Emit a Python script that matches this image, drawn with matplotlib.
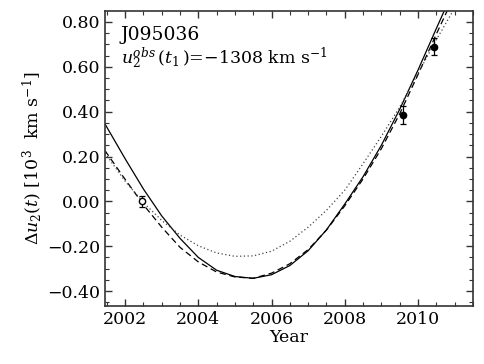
import numpy as np
import matplotlib
matplotlib.use("Agg")
import matplotlib.pyplot as plt
from matplotlib.ticker import MultipleLocator, FuncFormatter

plt.rcParams['font.family'] = 'DejaVu Serif'
plt.rcParams['mathtext.fontset'] = 'dejavuserif'

# model curves (year, 10^3 km/s)
yr_solid = [2001.45, 2002.0, 2002.5, 2003.0, 2003.5, 2004.0, 2004.5, 2005.0, 2005.5, 2006.0,
            2006.5, 2007.0, 2007.5, 2008.0, 2008.5, 2009.0, 2009.5, 2010.0, 2010.5, 2010.72]
du_solid = [0.345, 0.19, 0.055, -0.065, -0.165, -0.25, -0.307, -0.335, -0.343, -0.327,
            -0.286, -0.22, -0.127, -0.012, 0.11, 0.25, 0.41, 0.585, 0.77, 0.85]

yr_dash = [2001.45, 2002.0, 2002.5, 2003.0, 2003.5, 2004.0, 2004.5, 2005.0, 2005.5, 2006.0,
           2006.5, 2007.0, 2007.5, 2008.0, 2008.5, 2009.0, 2009.5, 2010.0, 2010.5, 2010.8]
du_dash = [0.226, 0.098, -0.015, -0.115, -0.205, -0.27, -0.315, -0.337, -0.343, -0.32,
           -0.278, -0.215, -0.128, -0.02, 0.10, 0.235, 0.39, 0.565, 0.745, 0.85]

yr_dot = [2001.45, 2002.0, 2002.5, 2003.0, 2003.5, 2004.0, 2004.5, 2005.0, 2005.5, 2006.0,
          2006.5, 2007.0, 2007.5, 2008.0, 2008.5, 2009.0, 2009.5, 2010.0, 2010.5, 2010.96]
du_dot = [0.215, 0.09, -0.005, -0.085, -0.15, -0.198, -0.23, -0.245, -0.243, -0.222,
          -0.178, -0.115, -0.04, 0.05, 0.168, 0.29, 0.42, 0.57, 0.72, 0.85]

# observed points
obs_yr = [2002.45, 2009.6, 2010.43]
obs_du = [0.0, 0.385, 0.69]
obs_err = [0.025, 0.042, 0.038]

fig = plt.figure(figsize=(4.85, 3.64), dpi=100)
ax = fig.add_axes([0.2165, 0.159, 0.7585, 0.811])

ax.plot(yr_solid, du_solid, color='black', lw=0.9, ls='-')
ax.plot(yr_dash, du_dash, color='black', lw=0.9, ls=(0, (5, 3)))
ax.plot(yr_dot, du_dot, color='#444444', lw=0.9, ls=(0, (1, 2)))

ax.errorbar(obs_yr[:1], obs_du[:1], yerr=obs_err[:1], fmt='o', mfc='white', mec='black',
            ms=4.5, color='black', capsize=2.5, elinewidth=0.9, capthick=0.9)
ax.errorbar(obs_yr[1:], obs_du[1:], yerr=obs_err[1:], fmt='o', mfc='black', mec='black',
            ms=4.5, color='black', capsize=2.5, elinewidth=0.9, capthick=0.9)

ax.set_xlim(2001.45, 2011.5)
ax.set_ylim(-0.467, 0.849)

ax.xaxis.set_major_locator(MultipleLocator(2))
ax.xaxis.set_minor_locator(MultipleLocator(0.5))
ax.yaxis.set_major_locator(MultipleLocator(0.2))
ax.yaxis.set_minor_locator(MultipleLocator(0.05))
ax.yaxis.set_major_formatter(FuncFormatter(lambda v, p: ('%.2f' % v).replace('-', '\u2212')))
ax.xaxis.set_major_formatter(FuncFormatter(lambda v, p: '%d' % round(v)))

ax.tick_params(which='both', direction='in', top=True, right=True, labelsize=12.5, color='#333333')
ax.tick_params(which='major', length=5, width=1)
ax.tick_params(which='minor', length=3, width=0.8)
for s in ax.spines.values():
    s.set_color('#333333')
    s.set_linewidth(1.2)

ax.set_xlabel('Year', fontsize=12.5, labelpad=1)
ax.set_ylabel(r'$\Delta u_2(t)$ [$10^3$  km s$^{-1}$]', fontsize=12.5, labelpad=2)

ax.text(0.043, 0.9, 'J095036', transform=ax.transAxes, fontsize=13.5, va='baseline')
ax.text(0.043, 0.822, r'$u_2^{obs}\,(t_1\,)$=$-$1308 km s$^{-1}$', transform=ax.transAxes,
        fontsize=12.5, va='baseline')

fig.savefig('out.png', dpi=100)
